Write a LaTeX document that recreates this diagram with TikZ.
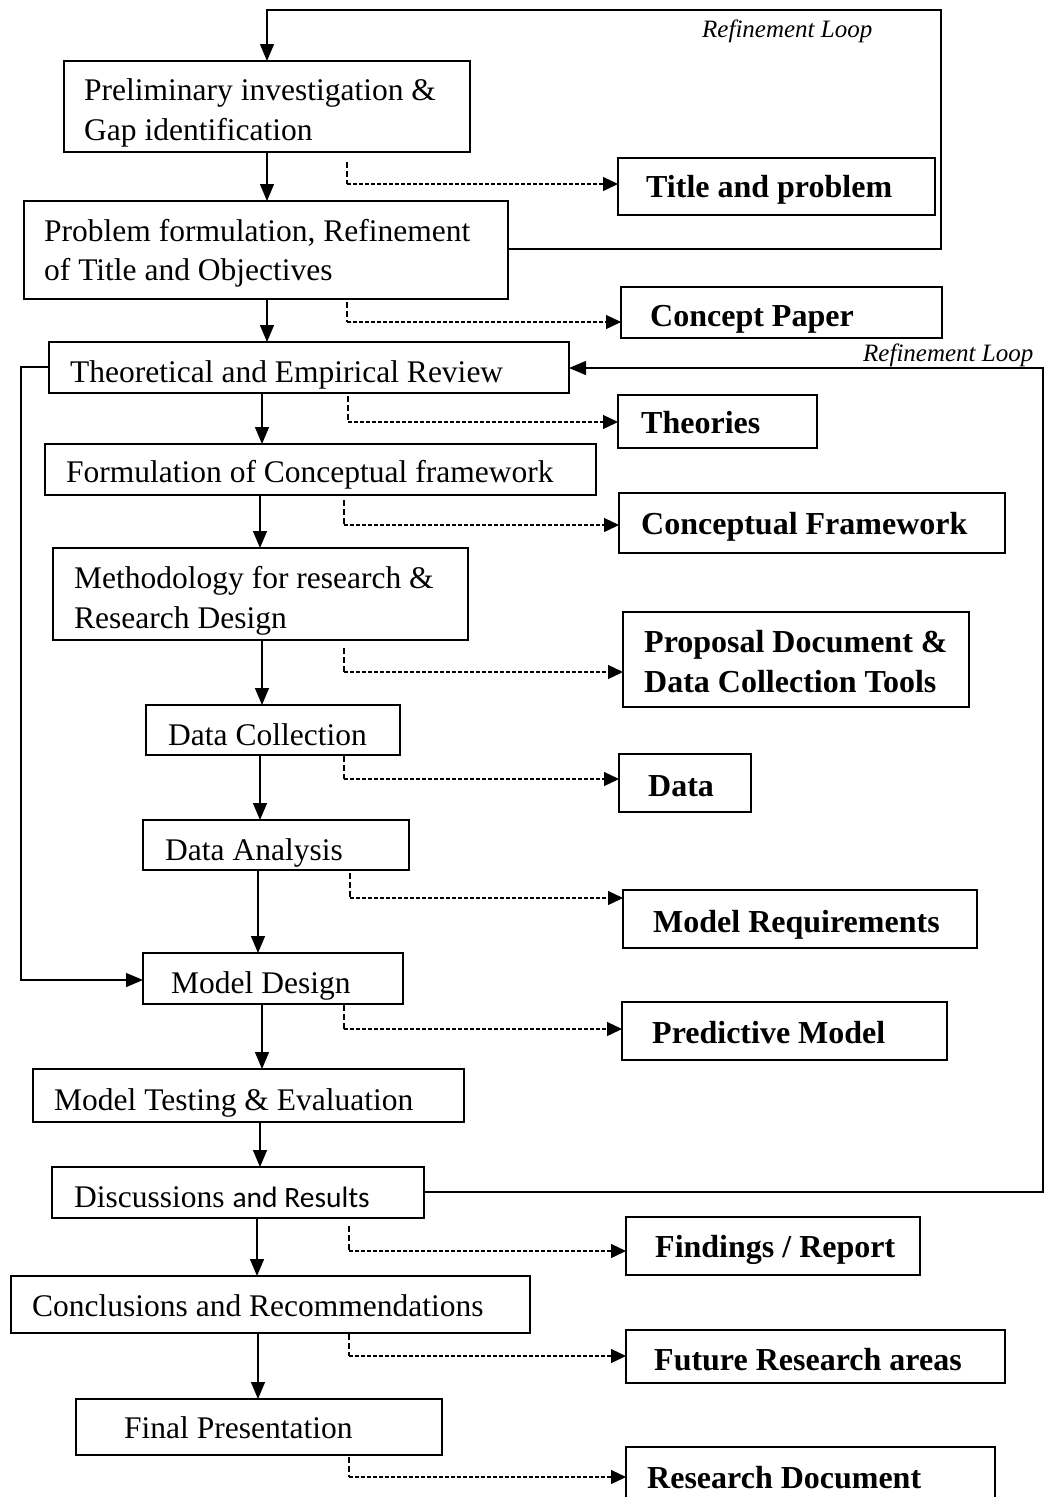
\documentclass[tikz,border=0pt]{standalone}
\usepackage{fontspec}
\setmainfont{Liberation Serif}
\newfontfamily\calib{Carlito}
\usetikzlibrary{arrows.meta,calc}
\tikzset{
  boxst/.style={draw, line width=1.9pt, inner sep=0pt, outer sep=0pt},
  lbl/.style={anchor=base west, inner sep=0pt, font=\fontsize{31.5}{38}\selectfont},
  blbl/.style={anchor=base west, inner sep=0pt, font=\fontsize{32}{38}\selectfont\bfseries},
  ilbl/.style={anchor=base west, inner sep=0pt, font=\fontsize{25}{30}\selectfont\itshape},
  flow/.style={line width=1.3pt, -{Triangle[length=17pt,width=14pt]}},
  dashv/.style={line width=1.2pt, dash pattern=on 6pt off 3pt},
  dashh/.style={line width=1.3pt, dash pattern=on 4pt off 2pt, -{Triangle[length=15pt,width=14pt]}},
}
\newcommand{\bx}[5]{\node[boxst,anchor=north west,minimum width={#4-#2},minimum height={#5-#3}] (#1) at (#2,#3) {};}
\newcommand{\dlink}[5]{\coordinate (#1a) at (#2,#3); \coordinate (#1b) at (#2,#4);
  \draw[dashv] (#1a) -- (#1b); \draw[dashh] (#1b) -- (#1b -| #5.west);}
\begin{document}
\begin{tikzpicture}[x=1pt,y=-1pt]
\useasboundingbox (0,0) rectangle (1049,1497);
% boxes
\bx{b1}{64}{61}{470}{152}
\bx{tp}{618}{158}{935}{215}
\bx{b2}{24}{201}{508}{299}
\bx{cp}{621}{287}{942}{338}
\bx{b3}{49}{342}{569}{393}
\bx{th}{618}{395}{817}{448}
\bx{b4}{45}{444}{596}{495}
\bx{cf}{619}{493}{1005}{553}
\bx{b5}{53}{548}{468}{640}
\bx{pd}{623}{612}{969}{707}
\bx{dc}{146}{705}{400}{755}
\bx{da}{619}{754}{751}{812}
\bx{an}{143}{820}{409}{870}
\bx{mr}{623}{890}{977}{948}
\bx{md}{143}{953}{403}{1004}
\bx{pm}{622}{1002}{947}{1060}
\bx{mt}{33}{1069}{464}{1122}
\bx{dr}{52}{1167}{424}{1218}
\bx{fr}{626}{1217}{920}{1275}
\bx{cr}{11}{1276}{530}{1333}
\bx{fu}{626}{1330}{1005}{1383}
\bx{fp}{76}{1399}{442}{1455}
\bx{rd}{626}{1447}{995}{1515}
% texts
\node[lbl] (t1a) at (84,100) {Preliminary investigation \&};
\node[lbl] (t1b) at (84,140) {Gap identification};
\node[blbl] (ttp) at (646,197) {Title and problem};
\node[lbl] (t2a) at (44,241) {Problem formulation, Refinement};
\node[lbl] (t2b) at (44,280) {of Title and Objectives};
\node[blbl] (tcp) at (650,326) {Concept Paper};
\node[lbl] (t3) at (70,382) {Theoretical and Empirical Review};
\node[blbl] (tth) at (641,433) {Theories};
\node[lbl] (t4) at (66,482) {Formulation of Conceptual framework};
\node[blbl] (tcf) at (641,534) {Conceptual Framework};
\node[lbl] (t5a) at (74,588) {Methodology for research \&};
\node[lbl] (t5b) at (74,628) {Research Design};
\node[blbl] (tpda) at (644,652) {Proposal Document \&};
\node[blbl] (tpdb) at (644,692) {Data Collection Tools};
\node[lbl] (tdc) at (168,745) {Data Collection};
\node[blbl] (tda) at (648,796) {Data};
\node[lbl] (tan) at (165,860) {Data Analysis};
\node[blbl] (tmr) at (653,932) {Model Requirements};
\node[lbl] (tmd) at (171,993) {Model Design};
\node[blbl] (tpm) at (652,1043) {Predictive Model};
\node[lbl] (tmt) at (54,1110) {Model Testing \& Evaluation};
\node[lbl] (tdr) at (74,1207) {Discussions {\calib\fontsize{29.5}{36}\selectfont and Results}};
\node[blbl] (tfr) at (655,1257) {Findings / Report};
\node[lbl] (tcr) at (32,1316) {Conclusions and Recommendations};
\node[blbl] (tfu) at (654,1370) {Future Research areas};
\node[lbl] (tfp) at (124,1438) {Final Presentation};
\node[blbl] (trd) at (647,1488) {Research Document};
\node[ilbl] (rl1) at (702,37) {Refinement Loop};
\node[ilbl] (rl2) at (863,361) {Refinement Loop};
% columns for main arrows
\coordinate (x267) at (267,0);
\coordinate (x262) at (262,0);
\coordinate (x260) at (260,0);
\coordinate (x258) at (258,0);
\coordinate (x257) at (257,0);
\draw[flow] (x267 |- b1.south) -- (x267 |- b2.north);
\draw[flow] (x267 |- b2.south) -- (x267 |- b3.north);
\draw[flow] (x262 |- b3.south) -- (x262 |- b4.north);
\draw[flow] (x260 |- b4.south) -- (x260 |- b5.north);
\draw[flow] (x262 |- b5.south) -- (x262 |- dc.north);
\draw[flow] (x260 |- dc.south) -- (x260 |- an.north);
\draw[flow] (x258 |- an.south) -- (x258 |- md.north);
\draw[flow] (x262 |- md.south) -- (x262 |- mt.north);
\draw[flow] (x260 |- mt.south) -- (x260 |- dr.north);
\draw[flow] (x257 |- dr.south) -- (x257 |- cr.north);
\draw[flow] (x258 |- cr.south) -- (x258 |- fp.north);
% refinement loops
\coordinate (L1a) at (941,249);
\coordinate (L1b) at (941,10);
\coordinate (L1c) at (267,10);
\draw[flow] (L1a -| b2.east) -- (L1a) -- (L1b) -- (L1c) -- (L1c |- b1.north);
\coordinate (L2a) at (1043,1192);
\coordinate (L2b) at (1043,368);
\draw[flow] (L2a -| dr.east) -- (L2a) -- (L2b) -- (L2b -| b3.east);
\coordinate (L3a) at (21,367);
\coordinate (L3b) at (21,980);
\draw[flow] (L3a -| b3.west) -- (L3a) -- (L3b) -- (L3b -| md.west);
% dashed output links
\dlink{d1}{347}{162}{184}{tp}
\dlink{d2}{347}{302}{322}{cp}
\dlink{d3}{348}{396}{422}{th}
\dlink{d4}{344}{500}{525}{cf}
\dlink{d5}{344}{648}{672}{pd}
\dlink{d6}{344}{756}{779}{da}
\dlink{d7}{350}{873}{898}{mr}
\dlink{d8}{344}{1005}{1029}{pm}
\dlink{d9}{349}{1226}{1251}{fr}
\dlink{d10}{349}{1334}{1356}{fu}
\dlink{d11}{349}{1457}{1477}{rd}
\end{tikzpicture}
\end{document}
